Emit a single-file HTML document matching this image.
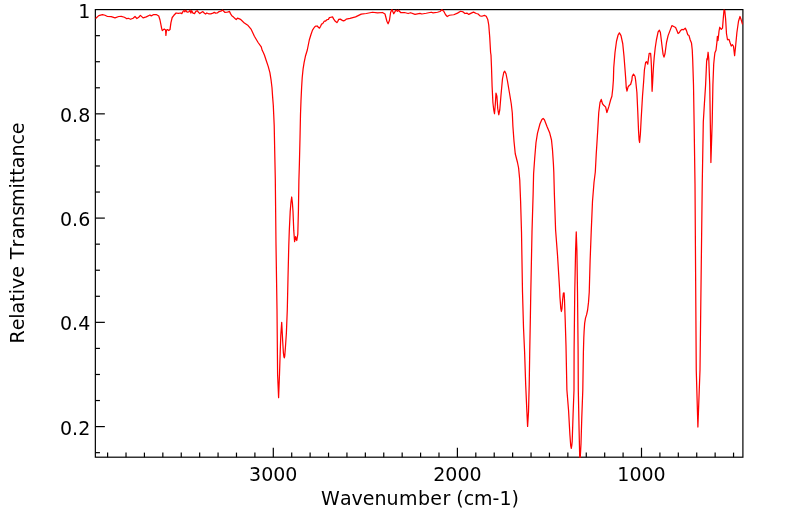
<!DOCTYPE html>
<html><head><meta charset="utf-8"><title>IR Spectrum</title>
<style>
html,body{margin:0;padding:0;background:#fff;}
svg{display:block;}
text{font-kerning:none;font-family:"DejaVu Sans","Liberation Sans",sans-serif;font-size:19px;fill:#000;}
</style></head><body>
<svg width="799" height="516" viewBox="0 0 799 516">
<rect x="0" y="0" width="799" height="516" fill="#fff"/>
<defs><clipPath id="c"><rect x="94.75" y="9.0" width="648.75" height="448.80"/></clipPath></defs>
<g stroke="#000" stroke-width="1.2">
<line x1="733.55" y1="457.2" x2="733.55" y2="452.60"/>
<line x1="715.14" y1="457.2" x2="715.14" y2="452.60"/>
<line x1="696.73" y1="457.2" x2="696.73" y2="452.60"/>
<line x1="678.32" y1="457.2" x2="678.32" y2="452.60"/>
<line x1="659.91" y1="457.2" x2="659.91" y2="452.60"/>
<line x1="641.50" y1="457.2" x2="641.50" y2="447.70"/>
<line x1="623.09" y1="457.2" x2="623.09" y2="452.60"/>
<line x1="604.68" y1="457.2" x2="604.68" y2="452.60"/>
<line x1="586.27" y1="457.2" x2="586.27" y2="452.60"/>
<line x1="567.86" y1="457.2" x2="567.86" y2="452.60"/>
<line x1="549.45" y1="457.2" x2="549.45" y2="452.60"/>
<line x1="531.04" y1="457.2" x2="531.04" y2="452.60"/>
<line x1="512.63" y1="457.2" x2="512.63" y2="452.60"/>
<line x1="494.22" y1="457.2" x2="494.22" y2="452.60"/>
<line x1="475.81" y1="457.2" x2="475.81" y2="452.60"/>
<line x1="457.40" y1="457.2" x2="457.40" y2="447.70"/>
<line x1="438.99" y1="457.2" x2="438.99" y2="452.60"/>
<line x1="420.58" y1="457.2" x2="420.58" y2="452.60"/>
<line x1="402.17" y1="457.2" x2="402.17" y2="452.60"/>
<line x1="383.76" y1="457.2" x2="383.76" y2="452.60"/>
<line x1="365.35" y1="457.2" x2="365.35" y2="452.60"/>
<line x1="346.94" y1="457.2" x2="346.94" y2="452.60"/>
<line x1="328.53" y1="457.2" x2="328.53" y2="452.60"/>
<line x1="310.12" y1="457.2" x2="310.12" y2="452.60"/>
<line x1="291.71" y1="457.2" x2="291.71" y2="452.60"/>
<line x1="273.30" y1="457.2" x2="273.30" y2="447.70"/>
<line x1="254.89" y1="457.2" x2="254.89" y2="452.60"/>
<line x1="236.48" y1="457.2" x2="236.48" y2="452.60"/>
<line x1="218.07" y1="457.2" x2="218.07" y2="452.60"/>
<line x1="199.66" y1="457.2" x2="199.66" y2="452.60"/>
<line x1="181.25" y1="457.2" x2="181.25" y2="452.60"/>
<line x1="162.84" y1="457.2" x2="162.84" y2="452.60"/>
<line x1="144.43" y1="457.2" x2="144.43" y2="452.60"/>
<line x1="126.02" y1="457.2" x2="126.02" y2="452.60"/>
<line x1="107.61" y1="457.2" x2="107.61" y2="452.60"/>
<line x1="95.35" y1="452.66" x2="99.95" y2="452.66"/>
<line x1="95.35" y1="426.60" x2="104.85" y2="426.60"/>
<line x1="95.35" y1="400.54" x2="99.95" y2="400.54"/>
<line x1="95.35" y1="374.48" x2="99.95" y2="374.48"/>
<line x1="95.35" y1="348.41" x2="99.95" y2="348.41"/>
<line x1="95.35" y1="322.35" x2="104.85" y2="322.35"/>
<line x1="95.35" y1="296.29" x2="99.95" y2="296.29"/>
<line x1="95.35" y1="270.23" x2="99.95" y2="270.23"/>
<line x1="95.35" y1="244.16" x2="99.95" y2="244.16"/>
<line x1="95.35" y1="218.10" x2="104.85" y2="218.10"/>
<line x1="95.35" y1="192.04" x2="99.95" y2="192.04"/>
<line x1="95.35" y1="165.97" x2="99.95" y2="165.97"/>
<line x1="95.35" y1="139.91" x2="99.95" y2="139.91"/>
<line x1="95.35" y1="113.85" x2="104.85" y2="113.85"/>
<line x1="95.35" y1="87.79" x2="99.95" y2="87.79"/>
<line x1="95.35" y1="61.72" x2="99.95" y2="61.72"/>
<line x1="95.35" y1="35.66" x2="99.95" y2="35.66"/>
<rect x="95.35" y="9.6" width="647.55" height="447.60" fill="none"/>
</g>
<path d="M95.60,18.50 L98.75,15.60 L102.50,14.60 L105.00,15.25 L107.50,16.50 L111.25,16.60 L115.00,17.90 L118.75,16.50 L121.25,16.40 L124.40,17.25 L126.90,18.75 L128.10,18.25 L130.60,19.25 L133.10,18.25 L135.00,16.50 L136.90,18.50 L138.75,17.25 L140.40,15.40 L143.10,17.90 L146.25,16.90 L150.00,15.00 L151.25,15.90 L153.75,14.50 L156.25,14.50 L158.75,16.00 L160.00,20.00 L161.70,28.60 L162.30,30.60 L164.30,29.10 L165.60,30.00 L165.90,35.40 L166.50,30.00 L167.50,29.60 L168.75,30.60 L170.00,29.60 L170.90,22.80 L172.20,17.50 L173.90,15.30 L176.10,13.00 L178.30,13.30 L180.50,13.00 L181.80,13.60 L183.10,11.40 L184.00,10.50 L184.90,11.80 L185.80,10.30 L187.10,12.10 L188.80,11.80 L190.00,10.30 L190.90,13.00 L191.70,10.70 L193.00,13.10 L194.50,13.60 L195.90,11.40 L197.20,10.70 L198.50,12.30 L199.80,13.60 L201.60,12.30 L202.90,11.60 L204.20,13.10 L205.50,14.00 L206.80,13.00 L208.60,13.80 L210.80,13.80 L212.90,13.10 L214.30,12.40 L215.60,13.10 L217.30,13.00 L219.10,11.60 L220.80,11.20 L222.60,10.10 L223.60,11.00 L224.80,12.30 L227.00,12.10 L228.30,11.80 L229.40,11.40 L230.50,13.60 L231.80,15.80 L233.50,17.10 L235.30,18.80 L236.20,19.50 L237.50,18.20 L238.80,18.60 L240.00,19.10 L241.25,20.00 L244.40,23.10 L248.10,25.60 L251.25,29.40 L254.40,36.25 L258.10,42.50 L261.25,46.90 L262.20,50.30 L263.20,52.20 L264.40,55.00 L266.30,60.70 L268.20,66.40 L269.90,72.70 L271.10,80.20 L272.00,87.80 L272.60,96.60 L273.30,105.40 L273.70,114.20 L274.20,125.60 L274.70,150.80 L275.30,179.00 L276.00,244.50 L277.00,309.20 L277.60,374.20 L278.60,397.70 L279.50,374.20 L280.15,354.00 L280.80,335.20 L281.70,322.30 L282.70,341.50 L283.40,352.80 L283.90,356.60 L284.30,357.90 L284.70,356.40 L285.40,347.80 L286.40,332.70 L287.30,309.60 L288.00,277.70 L288.80,245.00 L289.30,230.40 L290.20,211.50 L291.00,202.00 L291.70,197.00 L292.40,203.00 L293.00,211.50 L293.75,230.40 L294.60,241.70 L295.60,236.70 L296.80,240.50 L297.80,234.20 L298.40,211.50 L298.90,180.00 L299.40,163.40 L300.00,138.20 L300.50,114.20 L301.00,100.40 L301.60,87.80 L302.20,77.70 L303.10,68.90 L304.10,62.60 L305.40,56.30 L307.30,50.00 L309.30,40.00 L310.90,34.75 L312.50,30.10 L314.40,27.25 L315.60,26.10 L317.20,26.00 L318.40,27.25 L319.50,28.20 L320.60,26.30 L321.60,24.10 L322.80,23.50 L324.40,21.00 L325.60,21.00 L326.90,19.75 L328.40,19.40 L329.40,17.60 L330.90,17.25 L332.50,16.90 L333.75,19.10 L335.30,21.30 L336.90,22.60 L337.80,21.30 L338.75,19.40 L340.30,19.10 L341.90,20.10 L343.40,20.90 L344.90,20.40 L346.25,19.10 L350.00,18.40 L355.60,16.90 L361.25,14.10 L366.25,13.50 L372.50,12.25 L377.50,12.90 L382.50,12.50 L385.00,14.00 L386.90,21.25 L388.10,23.75 L389.40,20.60 L390.60,12.50 L391.90,9.40 L393.75,13.75 L395.60,10.60 L396.25,10.25 L397.50,11.25 L398.50,10.25 L400.60,12.50 L404.40,12.50 L408.10,13.50 L410.60,12.75 L415.00,14.40 L420.00,13.40 L421.90,14.00 L426.25,13.25 L431.25,12.25 L433.10,12.90 L437.50,12.25 L440.00,11.50 L441.90,9.75 L443.75,11.25 L445.60,14.75 L447.25,16.50 L449.40,15.25 L453.75,14.75 L457.50,13.10 L460.60,11.25 L463.10,11.90 L465.00,13.50 L466.90,13.10 L468.75,14.40 L471.25,13.10 L473.50,12.10 L476.25,13.50 L478.10,14.00 L480.00,15.90 L481.90,16.25 L484.40,15.40 L486.25,16.25 L487.75,19.40 L488.75,25.00 L489.75,37.50 L490.60,52.50 L491.00,55.00 L491.50,67.50 L492.10,86.25 L492.90,102.50 L493.75,110.00 L494.50,113.75 L495.25,105.00 L496.00,93.10 L496.90,96.25 L497.75,108.75 L498.75,114.75 L499.75,110.00 L501.00,95.00 L502.50,78.75 L503.75,72.50 L504.75,71.25 L506.00,73.75 L507.50,81.25 L509.40,92.50 L511.25,103.75 L512.30,113.00 L512.90,126.25 L514.00,141.25 L515.25,153.75 L517.50,162.50 L518.60,168.00 L519.75,180.00 L520.60,201.25 L521.50,232.00 L522.50,292.00 L523.50,327.50 L524.60,352.00 L525.70,385.00 L526.90,412.00 L527.60,426.40 L528.50,412.00 L529.20,385.00 L529.70,353.75 L530.30,321.25 L530.80,292.00 L532.00,232.00 L533.10,195.00 L533.60,173.75 L534.75,157.50 L536.00,142.50 L537.50,133.10 L540.00,123.75 L541.90,119.40 L543.10,118.40 L544.40,119.75 L546.90,126.25 L549.75,133.10 L551.50,140.00 L552.50,150.00 L553.40,163.75 L553.80,172.00 L554.40,195.00 L555.60,230.00 L557.50,255.00 L559.60,289.00 L559.90,296.60 L560.80,308.30 L561.40,311.50 L562.00,308.30 L562.70,299.00 L563.40,293.10 L564.10,292.90 L564.50,300.10 L565.20,319.90 L566.00,346.00 L566.90,390.00 L568.55,410.30 L569.90,434.70 L570.70,445.50 L571.30,448.30 L571.80,445.50 L572.20,441.50 L573.10,414.00 L574.00,390.00 L574.10,350.00 L574.75,292.00 L575.60,250.00 L576.25,231.90 L576.90,250.00 L577.50,292.00 L578.10,350.00 L578.30,390.00 L579.10,430.60 L579.70,456.40 L580.00,460.00 L580.30,456.40 L581.00,444.00 L581.80,417.00 L582.80,390.00 L583.40,352.00 L583.80,338.00 L584.10,331.50 L584.65,323.40 L585.50,318.10 L586.60,314.65 L587.60,310.00 L588.50,302.40 L589.25,292.00 L590.10,261.25 L591.20,232.00 L592.50,201.25 L594.00,182.50 L595.30,172.00 L596.25,153.75 L596.90,143.75 L597.75,130.00 L598.75,112.50 L600.00,102.50 L601.25,99.40 L602.50,103.75 L604.00,105.60 L605.60,106.90 L606.90,112.50 L608.75,106.90 L610.60,100.00 L611.90,96.25 L612.75,88.75 L613.40,80.00 L613.75,67.50 L615.00,52.50 L616.50,41.25 L618.10,35.00 L619.40,32.90 L621.00,35.60 L622.75,43.75 L624.00,56.25 L625.25,72.50 L625.80,80.00 L626.25,87.50 L627.00,91.00 L628.10,86.90 L629.40,85.25 L630.60,84.50 L631.90,80.00 L632.25,76.25 L633.50,74.10 L635.00,76.25 L635.60,80.00 L636.90,92.50 L637.75,111.25 L638.50,130.00 L639.10,140.00 L639.60,142.50 L640.40,133.75 L641.25,117.50 L642.50,96.25 L643.60,82.00 L644.40,70.00 L645.60,62.50 L646.50,61.60 L647.75,64.20 L648.40,59.00 L649.20,53.40 L650.60,53.40 L651.00,58.00 L651.40,66.00 L652.10,91.30 L652.60,83.00 L653.00,74.90 L653.60,65.00 L654.20,57.40 L655.20,48.00 L656.40,40.00 L658.10,31.90 L659.40,30.25 L660.40,32.50 L661.90,45.00 L663.10,54.40 L664.00,57.10 L665.00,53.75 L666.50,42.50 L668.10,35.60 L670.00,30.60 L671.90,25.60 L673.75,26.50 L675.60,27.50 L676.90,30.60 L678.10,33.50 L679.40,32.50 L680.60,30.40 L681.90,29.40 L683.50,29.75 L685.25,28.10 L686.50,30.60 L687.75,34.75 L689.00,35.60 L690.25,40.00 L691.50,43.10 L692.25,50.00 L692.70,60.00 L693.50,85.00 L694.10,122.00 L695.00,183.75 L696.25,370.00 L697.90,427.00 L700.00,370.00 L702.25,183.75 L703.30,122.00 L704.40,103.75 L705.60,85.00 L706.60,62.00 L706.90,58.75 L707.25,60.00 L708.10,52.25 L708.75,58.50 L709.75,85.00 L710.30,122.00 L710.90,162.50 L712.20,122.00 L712.90,85.00 L713.70,64.30 L714.30,58.00 L714.90,52.70 L716.00,50.30 L716.90,42.20 L717.40,36.40 L718.00,40.50 L718.60,35.20 L719.00,31.25 L719.75,27.25 L721.25,29.40 L722.50,28.10 L723.25,18.75 L724.00,10.00 L724.75,10.25 L725.60,18.75 L726.50,33.75 L727.50,39.75 L729.00,39.40 L730.00,42.50 L731.25,46.00 L732.50,44.75 L733.50,46.25 L734.60,55.60 L735.60,46.25 L736.90,32.50 L738.50,21.25 L740.00,16.50 L741.25,20.00 L742.50,24.40" fill="none" stroke="#ff0000" stroke-width="1.25" stroke-linejoin="round" clip-path="url(#c)"/>
<text x="273.30" y="481" text-anchor="middle">3000</text>
<text x="457.40" y="481" text-anchor="middle">2000</text>
<text x="641.50" y="481" text-anchor="middle">1000</text>
<text x="90.25" y="17.9" text-anchor="end">1</text>
<text x="90.25" y="121.9" text-anchor="end">0.8</text>
<text x="90.25" y="225.9" text-anchor="end">0.6</text>
<text x="90.25" y="329.9" text-anchor="end">0.4</text>
<text x="90.25" y="434.9" text-anchor="end">0.2</text>
<text x="321.1" y="505" dx="0 0 0 0 0 0 0.5 0.5 0 0.5">Wavenumber (cm-1)</text>
<text transform="translate(24.2,233) rotate(-90)" text-anchor="middle" dx="0 0 0 0 0 0 0 0 0 0.8 0 0.7 -0.5 0 -1">Relative Transmittance</text>
</svg>
</body></html>
